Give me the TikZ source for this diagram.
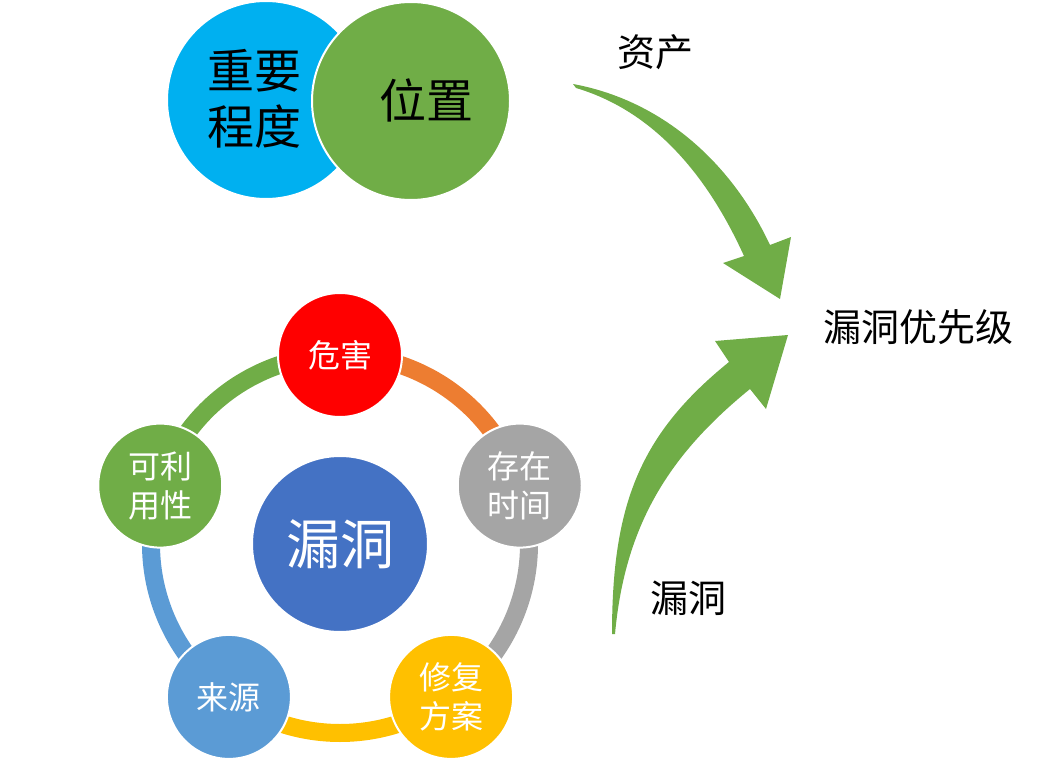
\documentclass[tikz,border=0pt]{standalone}
\usepackage{fontspec}
\setmainfont{Noto Sans CJK SC}
\usepackage{xcolor}
\usepackage{tikz}
\usetikzlibrary{shapes,arrows,positioning,calc}

\definecolor{skyblue}{HTML}{00B0F0}
\definecolor{leafgreen}{HTML}{70AD47}
\definecolor{coreblue}{HTML}{4472C4}
\definecolor{lightblue}{HTML}{5B9BD5}
\definecolor{hazardred}{HTML}{FF0000}
\definecolor{agegray}{HTML}{A5A5A5}
\definecolor{fixyellow}{HTML}{FFC000}
\definecolor{arcorange}{HTML}{ED7D31}

\begin{document}
\begin{tikzpicture}[x=1pt, y=1pt,
    bigdisc/.style={circle, draw=white, line width=2pt, minimum size=198pt, inner sep=0pt},
    bigtext/.style={align=center, inner sep=0pt, font=\fontsize{47}{56}\selectfont},
    smalldisc/.style={circle, draw=white, line width=2pt, minimum size=124pt, inner sep=0pt, align=center, text=white, font=\fontsize{32}{39}\selectfont},
    coredisc/.style={circle, draw=white, line width=2pt, minimum size=176pt, inner sep=0pt, text=white, font=\fontsize{54}{60}\selectfont},
    ring/.style={line width=18pt},
    label/.style={font=\fontsize{38}{44}\selectfont},
    bigarrow/.style={fill=leafgreen, draw=none}
]
    \useasboundingbox (0,0) rectangle (1054,764);

    % Asset circles
    \node[bigdisc, fill=skyblue] (weight) at (266,664) {};
    \node[bigdisc, fill=leafgreen] (place) at (411,663) {};
    \node[bigtext] (weighttext) at (254,665) {重要\\程度};
    \node[bigtext] (placetext) at (426,664) {位置};

    % Ring arcs
    \coordinate (hub) at (340,220);
    \begin{scope}[shift={(hub)}]
        \draw[ring, arcorange] (90:189) arc[start angle=90, end angle=18, radius=189];
        \draw[ring, agegray] (18:189) arc[start angle=18, end angle=-54, radius=189];
        \draw[ring, fixyellow] (-54:189) arc[start angle=-54, end angle=-126, radius=189];
        \draw[ring, lightblue] (-126:189) arc[start angle=-126, end angle=-198, radius=189];
        \draw[ring, leafgreen] (162:189) arc[start angle=162, end angle=90, radius=189];
    \end{scope}

    % Vulnerability circles
    \node[coredisc, fill=coreblue] (vuln) at (hub) {漏洞};
    \node[smalldisc, fill=hazardred] (harm) at ($(hub)+(90:189)$) {危害};
    \node[smalldisc, fill=agegray] (age) at ($(hub)+(18:189)$) {存在\\时间};
    \node[smalldisc, fill=fixyellow] (fix) at ($(hub)+(-54:189)$) {修复\\方案};
    \node[smalldisc, fill=lightblue] (origin) at ($(hub)+(-126:189)$) {来源};
    \node[smalldisc, fill=leafgreen] (exploit) at ($(hub)+(162:189)$) {可利\\用性};

    % Labels
    \node[label] (asset) at (655,712) {资产};
    \node[label] (priority) at (918,437) {漏洞优先级};
    \node[label] (vulnlabel) at (688,166) {漏洞};

    % Block arrows
    \fill[bigarrow] (573,680) .. controls (660,664) and (730,604) .. (770,519)
        -- (791,527) -- (780,465) -- (723,501) -- (744,508)
        .. controls (705,594) and (650,654) .. (576,676) -- cycle;
    \fill[bigarrow] (612,130) .. controls (612,260) and (640,330) .. (729,402)
        -- (715,423) -- (788,429) -- (766,355) -- (750,375)
        .. controls (670,310) and (625,240) .. (615,130) -- cycle;

\end{tikzpicture}
\end{document}
